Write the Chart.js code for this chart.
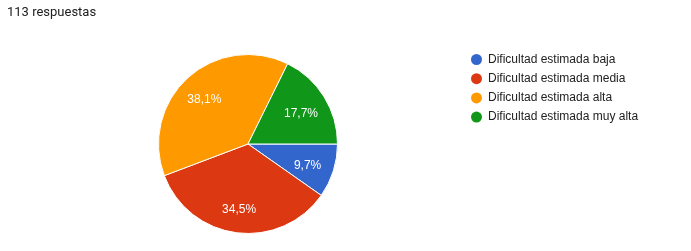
<!DOCTYPE html>
<html><head><meta charset="utf-8">
<script src="https://cdn.jsdelivr.net/npm/chart.js@4"></script>
<style>html,body{margin:0;padding:0;background:#fff;overflow:hidden}canvas{display:block}</style>
</head><body>
<canvas id="c" width="691" height="251"></canvas>
<script>
const titleText = "113 respuestas";
const categories = ["Dificultad estimada baja", "Dificultad estimada media", "Dificultad estimada alta", "Dificultad estimada muy alta"];
const counts = [11, 39, 43, 20];
const percentLabels = ["9,7%", "34,5%", "38,1%", "17,7%"];
const colors = ["#3366cc", "#dc3912", "#ff9900", "#109618"];

const overlay = {
  id: 'overlay',
  afterDraw(chart) {
    const ctx = chart.ctx;
    ctx.save();
    // title
    ctx.fillStyle = '#212121';
    ctx.font = '13px Roboto';
    ctx.textBaseline = 'middle';
    ctx.textAlign = 'left';
    ctx.fillText(titleText, 7, 13);
    // slice labels
    const meta = chart.getDatasetMeta(0);
    ctx.fillStyle = '#ffffff';
    ctx.font = '12px "Liberation Sans", Arial, sans-serif';
    ctx.textAlign = 'center';
    meta.data.forEach((arc, i) => {
      const mid = (arc.startAngle + arc.endAngle) / 2;
      const r = arc.outerRadius * 0.71;
      ctx.fillText(percentLabels[i], arc.x + Math.cos(mid) * r - 1, arc.y + Math.sin(mid) * r + 3);
    });
    // legend
    ctx.textAlign = 'left';
    ctx.font = '12px "Liberation Sans", Arial, sans-serif';
    categories.forEach((c, i) => {
      const y = 59.5 + i * 19.2;
      ctx.beginPath();
      ctx.fillStyle = colors[i];
      ctx.arc(476.5, y, 5.5, 0, Math.PI * 2);
      ctx.fill();
      ctx.fillStyle = '#222222';
      ctx.fillText(c, 488, y);
    });
    ctx.restore();
  }
};

new Chart(document.getElementById('c'), {
  type: 'pie',
  data: {
    labels: categories,
    datasets: [{
      data: counts,
      backgroundColor: colors,
      borderColor: '#ffffff',
      borderWidth: 1
    }]
  },
  options: {
    responsive: false,
    animation: false,
    rotation: 90,
    layout: { padding: { left: 158, right: 353, top: 54, bottom: 17 } },
    plugins: { legend: { display: false }, tooltip: { enabled: false }, title: { display: false } }
  },
  plugins: [overlay]
});
</script>
</body></html>
